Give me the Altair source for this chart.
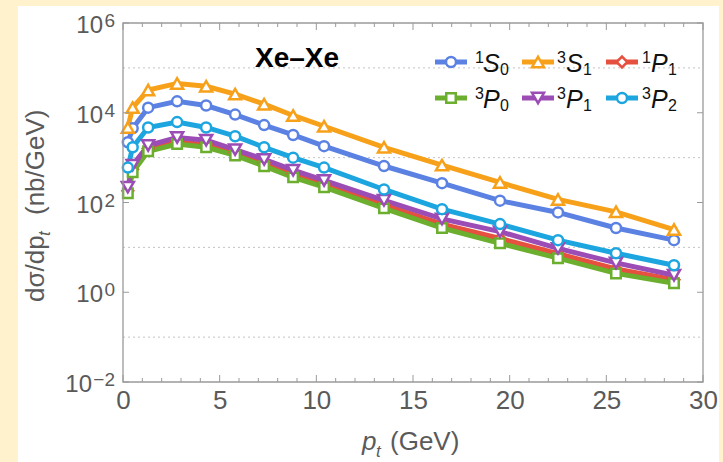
import altair as alt
import pandas as pd

# ---------------- data ----------------
pt = [0.25, 0.5, 1.3, 2.8, 4.3, 5.8, 7.3, 8.8, 10.4, 13.5, 16.5, 19.5, 22.5, 25.5, 28.5]
s1S0 = [2200, 4500, 13000, 18000, 14500, 9100, 5300, 3200, 1800, 650, 270, 110, 60, 27, 14.5]
s3S1 = [4700, 13000, 32000, 45000, 39000, 26000, 15500, 8700, 5000, 1700, 680, 280, 117, 62, 25]
s1P1 = [182, 550, 1600, 2340, 2000, 1290, 760, 437, 257, 89, 33, 15.8, 7.2, 3.3, 1.9]
s3P0 = [160, 470, 1380, 2000, 1700, 1120, 645, 363, 219, 74, 27, 12.3, 5.75, 2.63, 1.58]
s3P1 = [220, 680, 1860, 2820, 2450, 1510, 910, 525, 310, 112, 43, 22.4, 9.5, 4.5, 2.4]
s3P2 = [600, 1700, 4700, 6200, 4700, 3000, 1700, 1000, 600, 195, 71, 33, 14.5, 7.4, 4.0]

series_names = ["1S0", "3S1", "1P1", "3P0", "3P1", "3P2"]
series_vals = [s1S0, s3S1, s1P1, s3P0, s3P1, s3P2]
colors = ["#5B81E3", "#F7A11B", "#E6503E", "#6CAE2E", "#9C4CB5", "#1DA5DF"]
shapes = ["circle", "triangle-up", "diamond", "square", "triangle-down", "circle"]
msizes = [100, 145, 115, 90, 145, 100]
leg_sup = ["1", "3", "1", "3", "3", "3"]
leg_letter = ["S", "S", "P", "P", "P", "P"]
leg_sub = ["0", "1", "1", "0", "1", "2"]

x_major = [0, 5, 10, 15, 20, 25, 30]
x_minor = [i for i in range(31) if i % 5 != 0]
y_major_exp = [-2, 0, 2, 4, 6]
y_grid_exp = [-1, 1, 3, 5]

W, H = 580, 359
FONT = "Liberation Sans"
GRAY_TXT = "#5a5a5a"
FRAME = "#9a9a9a"

xscale = alt.Scale(domain=[0, 30], nice=False, zero=False)
yscale = alt.Scale(type="log", domain=[0.01, 1e6], nice=False)
xaxis = alt.Axis(values=x_major, labelFontSize=26, labelColor=GRAY_TXT, labelFont=FONT,
                 ticks=False, domain=False, grid=False, labelPadding=5, title=None,
                 labelFlush=False, zindex=1)

one = pd.DataFrame({"a": [0]})
layers = []

# white panel
layers.append(alt.Chart(one).mark_rect(color="white").encode(
    x=alt.value(-105), x2=alt.value(596), y=alt.value(-17), y2=alt.value(445)))

# dotted gridlines
grid_df = pd.DataFrame({"g": [10.0 ** e for e in y_grid_exp]})
layers.append(alt.Chart(grid_df).mark_rule(color="#c4c4c4", strokeWidth=1, strokeDash=[2, 3]).encode(
    y=alt.Y("g:Q", scale=yscale, axis=None), x=alt.value(0), x2=alt.value(W)))

# series lines
dfs = []
for name, vals in zip(series_names, series_vals):
    dfs.append(pd.DataFrame({"pt": pt, "v": vals, "s": name}))
for df, c in zip(dfs, colors):
    layers.append(alt.Chart(df).mark_line(color=c, strokeWidth=5).encode(
        x=alt.X("pt:Q", scale=xscale, axis=xaxis),
        y=alt.Y("v:Q", scale=yscale, axis=None)))
for df, c, sh, sz in zip(dfs, colors, shapes, msizes):
    layers.append(alt.Chart(df).mark_point(filled=True, fill="white", stroke=c, strokeWidth=2.5,
                                           opacity=1, shape=sh, size=sz).encode(
        x=alt.X("pt:Q", scale=xscale, axis=xaxis),
        y=alt.Y("v:Q", scale=yscale, axis=None)))

# frame
layers.append(alt.Chart(one).mark_rect(fillOpacity=0, stroke=FRAME, strokeWidth=1.3).encode(
    x=alt.value(0), x2=alt.value(W), y=alt.value(0), y2=alt.value(H)))

# inward ticks
xmaj_df = pd.DataFrame({"t": x_major})
xmin_df = pd.DataFrame({"t": x_minor})
for dfx, ln in ((xmaj_df, 7), (xmin_df, 4)):
    layers.append(alt.Chart(dfx).mark_rule(color=FRAME, strokeWidth=1).encode(
        x=alt.X("t:Q", scale=xscale, axis=xaxis), y=alt.value(H), y2=alt.value(H - ln)))
    layers.append(alt.Chart(dfx).mark_rule(color=FRAME, strokeWidth=1).encode(
        x=alt.X("t:Q", scale=xscale, axis=xaxis), y=alt.value(0), y2=alt.value(ln)))
ymaj_df = pd.DataFrame({"t": [10.0 ** e for e in y_major_exp],
                        "e": [str(e).replace("-", "\u2212") for e in y_major_exp]})
layers.append(alt.Chart(ymaj_df).mark_rule(color=FRAME, strokeWidth=1).encode(
    y=alt.Y("t:Q", scale=yscale, axis=None), x=alt.value(0), x2=alt.value(6)))
layers.append(alt.Chart(ymaj_df).mark_rule(color=FRAME, strokeWidth=1).encode(
    y=alt.Y("t:Q", scale=yscale, axis=None), x=alt.value(W), x2=alt.value(W - 6)))

# y tick labels: "10" + superscript exponent
single = alt.datum.t >= 1
layers.append(alt.Chart(ymaj_df).mark_text(font=FONT, fontSize=19, color=GRAY_TXT, align="right",
                                           baseline="alphabetic", dy=4).encode(
    y=alt.Y("t:Q", scale=yscale, axis=None), x=alt.value(-8), text="e:N"))
layers.append(alt.Chart(ymaj_df).transform_filter(single).mark_text(
    font=FONT, fontSize=24, color=GRAY_TXT, align="right", baseline="alphabetic", dy=10).encode(
    y=alt.Y("t:Q", scale=yscale, axis=None), x=alt.value(-20), text=alt.value("10")))
layers.append(alt.Chart(ymaj_df).transform_filter(~single).mark_text(
    font=FONT, fontSize=24, color=GRAY_TXT, align="right", baseline="alphabetic", dy=10).encode(
    y=alt.Y("t:Q", scale=yscale, axis=None), x=alt.value(-31), text=alt.value("10")))


def txt(text, x, y, size, style="normal", weight="normal", color=GRAY_TXT, align="left",
        baseline="alphabetic", angle=0):
    return alt.Chart(one).mark_text(text=text, font=FONT, fontSize=size, fontStyle=style,
                                    fontWeight=weight, color=color, align=align,
                                    baseline=baseline, angle=angle).encode(
        x=alt.value(x), y=alt.value(y))


# x axis title: p_t (GeV)
layers.append(txt("p", 239, 427, 26, style="italic"))
layers.append(txt("t", 253, 434, 17, style="italic"))
layers.append(txt("(GeV)", 267, 427, 26))

# y axis title: dσ/dp_t (nb/GeV), rotated
layers.append(txt("d\u03c3/dp", -79, 279, 26, angle=270))
layers.append(txt("t", -73, 213, 17, style="italic", angle=270))
layers.append(txt("(nb/GeV)", -79, 192, 26, angle=270))

# panel label
layers.append(txt("Xe\u2013Xe", 174, 44, 28, weight="bold", color="black", align="center"))

# legend
col_x = [312, 399, 483]
row_y = [39, 75]
txt_off = [(40, 48, 65), (35, 44, 61), (36, 45, 62)]
for i, (c, sh, sz) in enumerate(zip(colors, shapes, msizes)):
    r, k = divmod(i, 3)
    x0 = col_x[k]
    y0 = row_y[r]
    layers.append(alt.Chart(one).mark_rule(color=c, strokeWidth=5).encode(
        x=alt.value(x0), x2=alt.value(x0 + 32), y=alt.value(y0)))
    layers.append(alt.Chart(one).mark_point(filled=True, fill="white", stroke=c, strokeWidth=2.5,
                                            opacity=1, shape=sh, size=sz).encode(
        x=alt.value(x0 + 16), y=alt.value(y0)))
    o1, o2, o3 = txt_off[k]
    layers.append(txt(leg_sup[i], x0 + o1, y0 + 1, 16, color="#111"))
    layers.append(txt(leg_letter[i], x0 + o2, y0 + 10, 25, style="italic", color="#111"))
    layers.append(txt(leg_sub[i], x0 + o3, y0 + 13, 16, color="#111"))

chart = alt.layer(*layers).properties(
    width=W, height=H,
    autosize=alt.AutoSizeParams(type="none"),
    padding={"left": 123, "top": 23, "right": 20, "bottom": 80},
).configure(background="#FFF2CC").configure_view(stroke=None)

chart.save("out.html", embed_options={"renderer": "svg", "actions": False})
